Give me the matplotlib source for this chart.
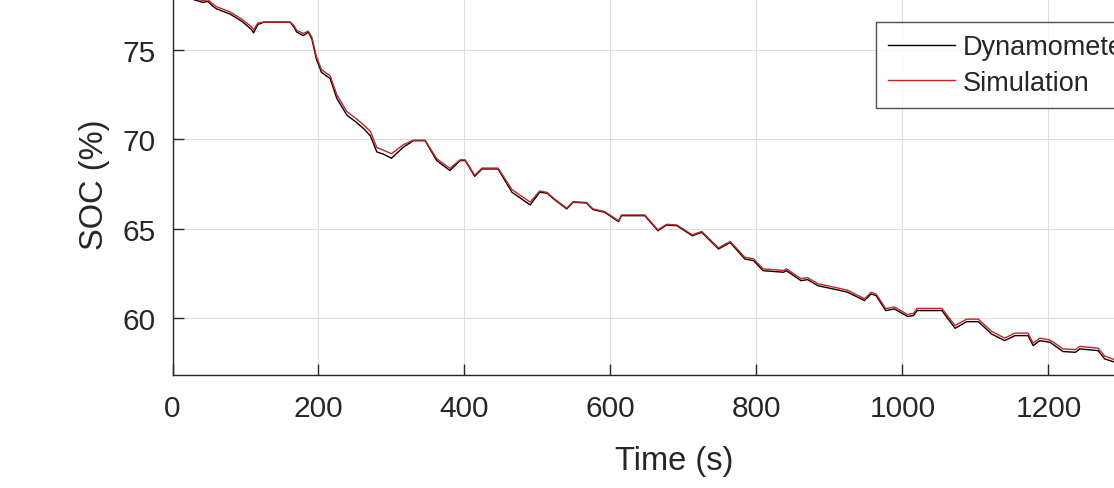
import matplotlib
matplotlib.use('Agg')
import matplotlib.pyplot as plt

plt.rcParams['font.family'] = ['Liberation Sans', 'DejaVu Sans']

# time axis (s)
time_s = [0, 12, 26, 42, 48, 55, 60, 79, 95, 108, 111, 117, 125, 161, 166, 170,
          179, 186, 191, 197, 204, 216, 225, 239, 252, 262, 271, 280, 289, 300,
          316, 330, 346, 362, 380, 394, 401, 414, 424, 446, 465, 490, 503, 513,
          522, 540, 549, 567, 576, 592, 611, 615, 647, 665, 677, 691, 712, 725,
          748, 764, 784, 796, 809, 837, 841, 861, 870, 884, 916, 925, 948, 957,
          964, 977, 989, 1007, 1015, 1020, 1054, 1072, 1088, 1104, 1122, 1140,
          1154, 1172, 1179, 1188, 1202, 1220, 1237, 1243, 1268, 1277, 1289, 1310,
          1340, 1374]

# SOC measured on the dynamometer (%)
soc_dyno = [78.18, 78.0, 77.85, 77.65, 77.72, 77.45, 77.3, 77.0, 76.6, 76.15,
            75.95, 76.42, 76.55, 76.55, 76.3, 76.0, 75.8, 75.99, 75.6, 74.5,
            73.75, 73.4, 72.3, 71.35, 70.95, 70.6, 70.2, 69.3, 69.18, 68.95,
            69.56, 69.93, 69.93, 68.82, 68.26, 68.82, 68.82, 67.94, 68.35, 68.35,
            67.05, 66.34, 67.05, 67.0, 66.68, 66.12, 66.49, 66.45, 66.08, 65.93,
            65.41, 65.74, 65.74, 64.9, 65.22, 65.18, 64.62, 64.81, 63.88, 64.24,
            63.32, 63.23, 62.67, 62.58, 62.67, 62.11, 62.17, 61.83, 61.55, 61.46,
            61.0, 61.37, 61.27, 60.44, 60.53, 60.11, 60.16, 60.44, 60.44, 59.45,
            59.82, 59.82, 59.13, 58.76, 59.04, 59.04, 58.48, 58.76, 58.67, 58.15,
            58.11, 58.3, 58.2, 57.74, 57.58, 57.45, 57.2, 56.95]

# SOC from the simulation model (%)
soc_sim = [78.18, 78.05, 77.92, 77.75, 77.82, 77.58, 77.42, 77.12, 76.72, 76.3,
           76.12, 76.5, 76.56, 76.56, 76.38, 76.1, 75.92, 76.05, 75.7, 74.65,
           73.9, 73.55, 72.5, 71.55, 71.15, 70.8, 70.45, 69.55, 69.4, 69.2,
           69.7, 69.96, 69.96, 68.92, 68.38, 68.86, 68.86, 68.0, 68.4, 68.4,
           67.2, 66.5, 67.12, 67.04, 66.72, 66.16, 66.52, 66.48, 66.12, 65.97,
           65.46, 65.78, 65.78, 64.95, 65.26, 65.22, 64.67, 64.86, 63.94, 64.3,
           63.42, 63.33, 62.77, 62.68, 62.77, 62.22, 62.28, 61.94, 61.66, 61.57,
           61.1, 61.46, 61.36, 60.55, 60.64, 60.22, 60.28, 60.56, 60.56, 59.6,
           59.96, 59.96, 59.28, 58.9, 59.18, 59.18, 58.62, 58.9, 58.8, 58.3,
           58.26, 58.44, 58.34, 57.9, 57.72, 57.6, 57.35, 57.1]

dark = '#262626'

fig = plt.figure(figsize=(11.14, 4.89), dpi=100)
ax = fig.add_axes([172.5 / 1114, 113 / 489, 1003 / 1114, 382 / 489])

ax.plot(time_s, soc_dyno, color='black', lw=1.0, label='Dynamometer')
ax.plot(time_s, soc_sim, color='#c42424', lw=1.0, label='Simulation')

ax.set_xlim(0, 1374)
ax.set_ylim(56.84, 78.18)
ax.set_xticks(range(0, 1400, 200))
ax.set_yticks([60, 65, 70, 75])

ax.grid(True, color='#dedede', lw=0.8)
ax.set_axisbelow(True)
for side in ['left', 'bottom', 'right', 'top']:
    ax.spines[side].set_color(dark)
    ax.spines[side].set_linewidth(1.0)
ax.tick_params(direction='in', length=8, width=1.0, colors=dark,
               labelsize=21.5, top=False, right=False)
ax.tick_params(axis='x', pad=14)
ax.tick_params(axis='y', pad=12)

ax.set_xlabel('Time (s)', fontsize=23.5, color=dark, labelpad=16)
ax.set_ylabel('SOC (%)', fontsize=23.5, color=dark, labelpad=9)

leg = ax.legend(loc='upper left', bbox_to_anchor=(876 / 1114, 1 - 23 / 489),
                bbox_transform=fig.transFigure, borderaxespad=0,
                fontsize=19.5, frameon=True, fancybox=False,
                handlelength=2.45, handletextpad=0.3, labelspacing=0.35,
                borderpad=0.45)
leg.get_frame().set_edgecolor(dark)
leg.get_frame().set_linewidth(1.0)
for t in leg.get_texts():
    t.set_color(dark)

fig.savefig('out.png', dpi=100)
